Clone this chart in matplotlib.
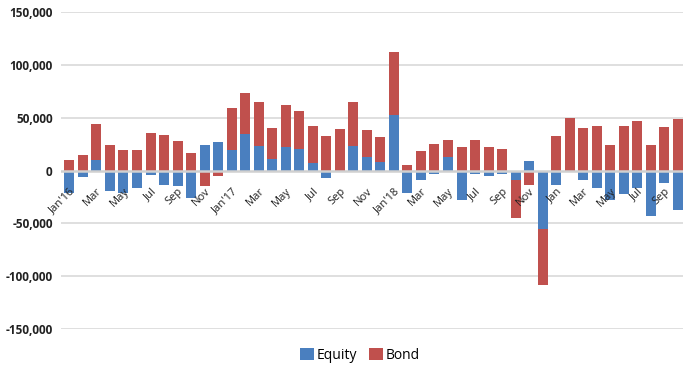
import matplotlib.pyplot as plt
import matplotlib.transforms as mtransforms
import numpy as np
from matplotlib.ticker import FuncFormatter

# monthly flows, Jan'16 .. Oct'19
months = ["Jan'16", "Feb", "Mar", "Apr", "May", "Jun", "Jul", "Aug", "Sep", "Oct", "Nov", "Dec",
          "Jan'17", "Feb", "Mar", "Apr", "May", "Jun", "Jul", "Aug", "Sep", "Oct", "Nov", "Dec",
          "Jan'18", "Feb", "Mar", "Apr", "May", "Jun", "Jul", "Aug", "Sep", "Oct", "Nov", "Dec",
          "Jan", "Feb", "Mar", "Apr", "May", "Jun", "Jul", "Aug", "Sep", "Oct"]

equity = [-21000, -6300, 9700, -18900, -21000, -16300, -4100, -13200, -14200, -26100, 24200, 26700,
          19200, 34600, 23000, 11300, 22000, 20400, 7200, -7500, -1200, 23000, 12900, 7900,
          52800, -21000, -8500, -2800, 12900, -28300, -2800, -5300, -2800, -8500, 9400, -55700,
          -13200, -1500, -8500, -16700, -27400, -22300, -16400, -43100, -11600, -37400]

bond = [10400, 15000, 34300, 24200, 19800, 19800, 35800, 33600, 28000, 16400, -14800, -5300,
        39900, 38700, 41500, 29300, 40000, 36200, 34600, 32400, 39300, 41500, 25100, 23500,
        59800, 5000, 18900, 25500, 16000, 22300, 28900, 22300, 20800, -36200, -13200, -52800,
        32400, 49700, 40300, 42500, 24200, 42500, 47200, 24200, 41500, 48400]


def plot_flows():
    eq = np.array(equity, dtype=float)
    bd = np.array(bond, dtype=float)
    x = np.arange(len(months))

    # Excel-style stacking: positives stack up from 0, negatives stack down from 0
    bond_base = np.where(np.sign(bd) == np.sign(eq), eq, 0.0)

    fig = plt.figure(figsize=(6.83, 3.66), dpi=100)
    ax = fig.add_axes([0.0893, 0.101, 0.9107, 0.866])

    blue = '#4a7fbf'
    red = '#c0504d'
    w = 0.74
    ax.bar(x, eq, width=w, color=blue, label='Equity', zorder=2)
    ax.bar(x, bd, width=w, bottom=bond_base, color=red, label='Bond', zorder=2)

    ax.set_ylim(-150000, 150000)
    yt = np.arange(-150000, 150001, 50000)
    ax.set_yticks(yt)
    for v in yt:
        if v != 0:
            ax.axhline(v, color='#d9d9d9', lw=1.2, zorder=0)
    ax.axhline(0, color='#d0d0d0', lw=1.8, zorder=3)
    ax.yaxis.set_major_formatter(FuncFormatter(lambda v, p: f"{int(v):,}"))
    ax.set_xlim(-0.62, len(months) - 0.62)

    # category labels sit along the zero line, as in Excel
    ax.spines['bottom'].set_position(('data', 0))
    ax.set_xticks(x[::2])
    ax.set_xticklabels(months[::2], rotation=45, ha='right', va='top',
                       rotation_mode='anchor', fontsize=8, color='#222222')
    shift = mtransforms.ScaledTranslation(2.0 / 72, 0, fig.dpi_scale_trans)
    for lbl in ax.get_xticklabels():
        lbl.set_transform(lbl.get_transform() + shift)
    ax.tick_params(axis='x', length=0, pad=11)
    ax.tick_params(axis='y', length=0, pad=6)
    for lbl in ax.get_yticklabels():
        lbl.set_fontweight('bold')
        lbl.set_fontsize(8.5)
        lbl.set_color('#222222')

    for s in ax.spines.values():
        s.set_visible(False)
    ax.xaxis.set_zorder(4)

    fig.legend(loc='center', bbox_to_anchor=(0.527, 0.03), ncol=2, frameon=False,
               fontsize=10, handlelength=1.0, handleheight=1.0, handletextpad=0.2,
               columnspacing=0.8)

    fig.savefig('out.png', dpi=100)


if __name__ == "__main__":
    plt.rcParams['font.family'] = ['Open Sans', 'DejaVu Sans']
    plot_flows()
